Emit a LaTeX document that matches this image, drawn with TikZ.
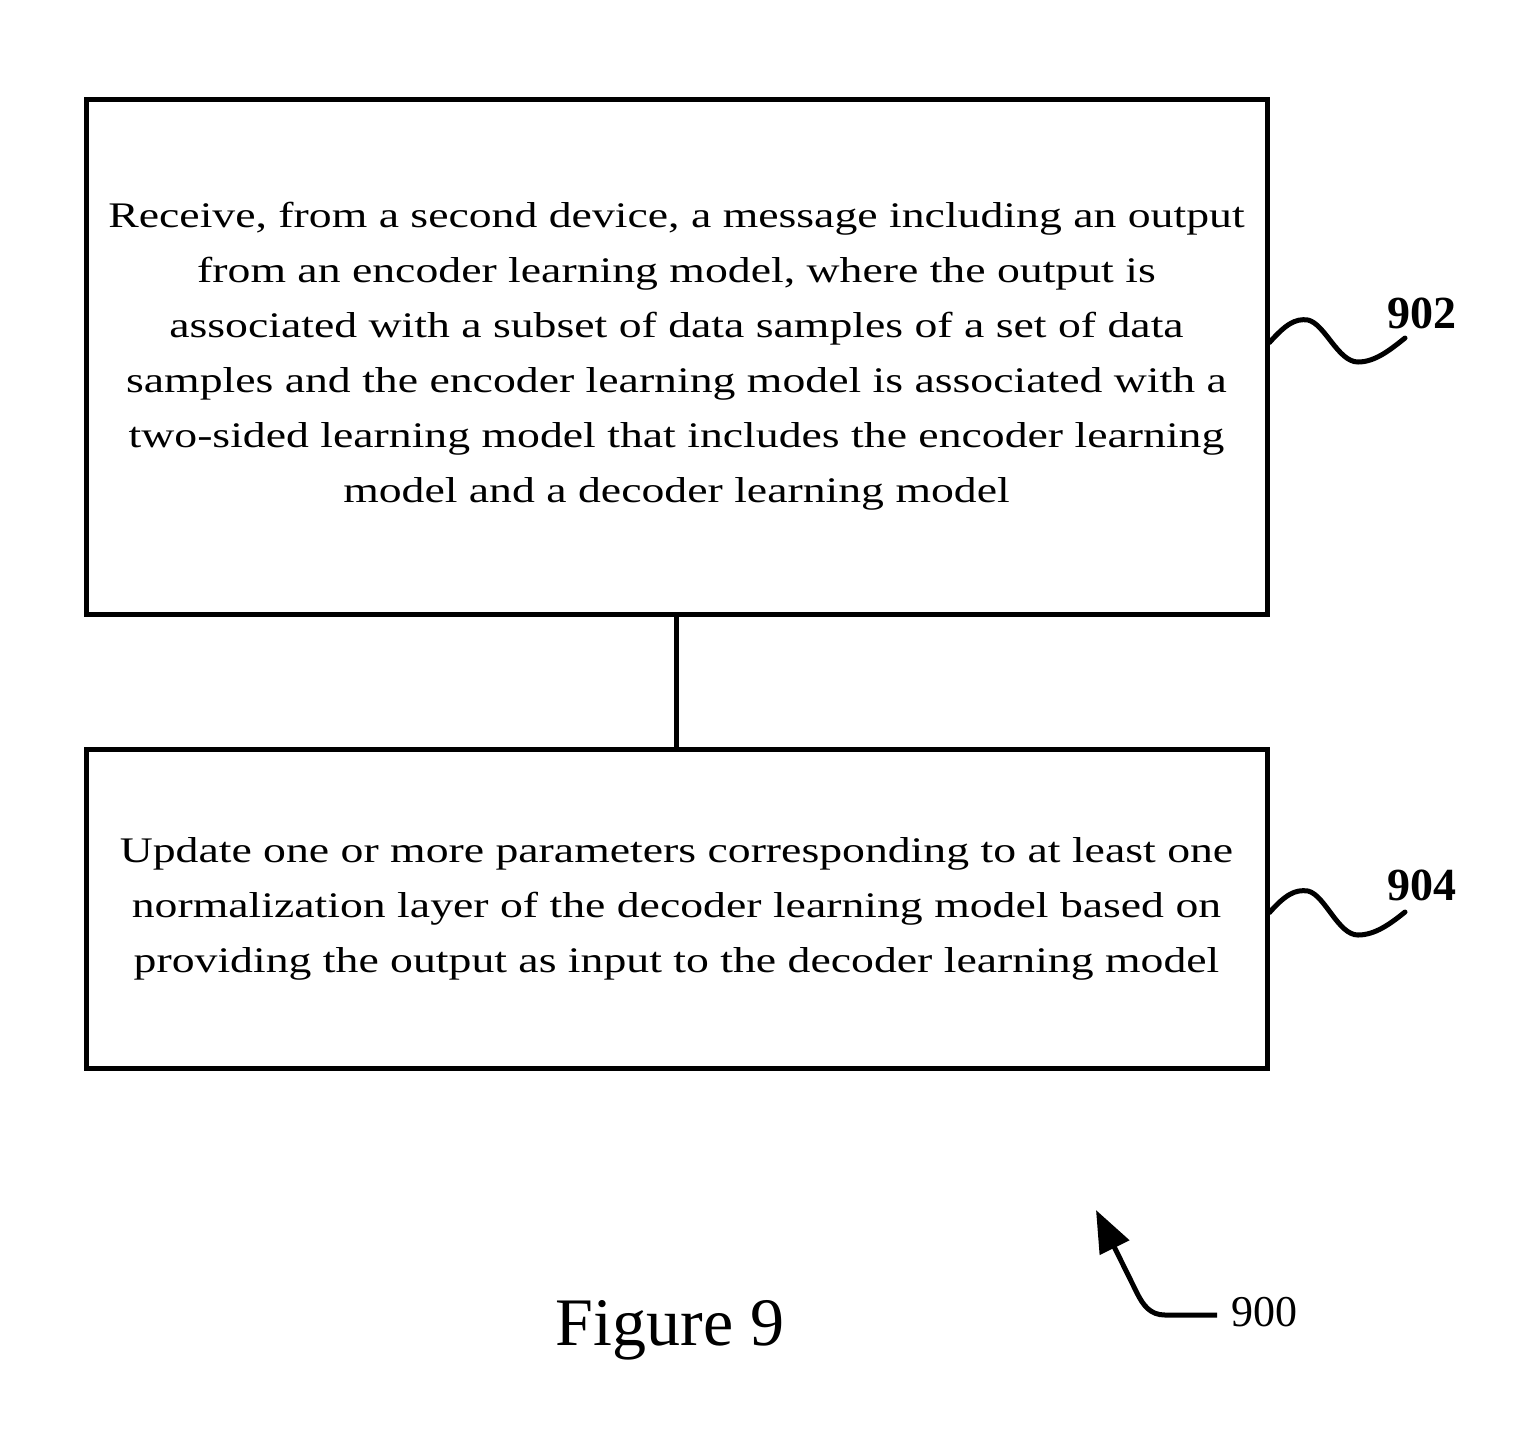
\documentclass[tikz,border=0pt]{standalone}
\usepackage{fontspec}
\setmainfont{Liberation Serif}
\newfontfamily\bodyfont[FakeStretch=1.27]{Liberation Serif}
\usetikzlibrary{arrows.meta}
\begin{document}
\begin{tikzpicture}[x=0.5pt,y=-0.5pt,
  stepbox/.style={draw,line width=2.5pt,inner sep=0pt,align=center,
     font=\bodyfont\fontsize{18pt}{27.5pt}\selectfont},
  conn/.style={line width=2.5pt},
  wave/.style={line width=2.5pt,line cap=round},
  refnum/.style={font=\bfseries\fontsize{23pt}{23pt}\selectfont,inner sep=0pt}]
\useasboundingbox (0,0) rectangle (1530,1431);
\node[stepbox,minimum width=590.5pt,minimum height=257.5pt] (b1) at (676.5,356.5)
 {Receive, from a second device, a message including an output\\
  from an encoder learning model, where the output is\\
  associated with a subset of data samples of a set of data\\
  samples and the encoder learning model is associated with a\\
  two-sided learning model that includes the encoder learning\\
  model and a decoder learning model};
\node[stepbox,minimum width=590.5pt,minimum height=159.5pt] (b2) at (676.5,908.5)
 {Update one or more parameters corresponding to at least one\\
  normalization layer of the decoder learning model based on\\
  providing the output as input to the decoder learning model};
\draw[conn] (b1.south) -- (b2.north);
% reference labels
\node[refnum] (n902) at (1422,313) {902};
\node[refnum] (n904) at (1422,885) {904};
\coordinate (w902) at (1405,338);
\coordinate (w904) at (1405,912);
\draw[wave] ([yshift=7pt]b1.east) .. controls (1285,325) and (1295,318) .. (1308,320)
  .. controls (1325,324) and (1338,362) .. (1358,362)
  .. controls (1375,362) and (1390,350) .. (w902);
\draw[wave] ([yshift=-2pt]b2.east) .. controls (1285,895) and (1295,889) .. (1308,891)
  .. controls (1325,895) and (1338,935) .. (1358,935)
  .. controls (1375,935) and (1390,924) .. (w904);
% figure label
\node[font=\fontsize{34pt}{34pt}\selectfont,inner sep=0pt] (fig) at (670,1330) {Figure 9};
\node[font=\fontsize{22pt}{22pt}\selectfont,inner sep=0pt] (n900) at (1264,1312) {900};
\coordinate (a900) at (1217,1315);
\coordinate (tip900) at (1096,1210);
\draw[line width=2.5pt,-{Triangle[length=21pt,width=16pt]}] (a900) -- (1165,1315)
  .. controls (1150,1315) and (1143,1305) .. (1137,1293) -- (tip900);
\end{tikzpicture}
\end{document}
